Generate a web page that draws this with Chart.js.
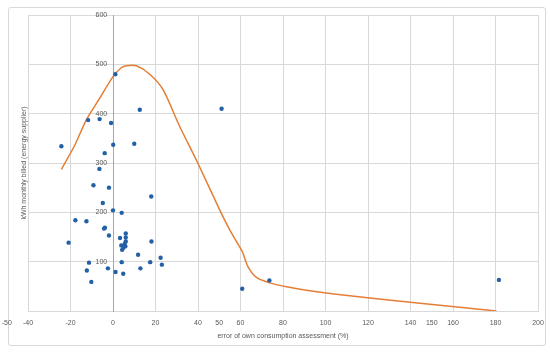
<!DOCTYPE html>
<html>
<head>
<meta charset="utf-8">
<script src="https://cdn.jsdelivr.net/npm/chart.js@4/dist/chart.umd.min.js"></script>
<style>
  html, body { margin: 0; padding: 0; background: #fff; }
  #frame { position: absolute; left: 8px; top: 7px; width: 536px; height: 337px; border: 1px solid #d9d9d9; border-radius: 3px; }
  #wrap { position: absolute; left: 0; top: 0; width: 550px; height: 354px; }
</style>
</head>
<body>
<div id="frame"></div>
<div id="wrap"><canvas id="c" width="550" height="354"></canvas></div>
<script>
// Scatter observations: error of own assessment (%) vs kWh billed
const errorPct = [-24.3, -11.7, -6.3, -0.9, 1.1, 12.6, -3.9, 0.1, 10.0, -6.4,
  -9.2, -1.9, 18.0, -4.8, 0.0, 4.1, -17.7, -12.5, -4.2, -3.8,
  -1.9, 3.3, 6.0, 6.0, 6.0, 3.9, 5.5, 5.8, 4.9, 4.3,
  -20.9, 18.1, 11.8, 22.4, -11.3, 4.1, 17.5, 23.0, -12.3, -2.4,
  12.9, 1.2, 4.8, -10.2, 51.1, 60.8, 73.6, 181.6];
const kwhBilled = [334, 387, 389, 381, 480, 408, 320, 337, 339, 288,
  255, 250, 232, 219, 204, 199, 184, 182, 167, 169,
  153, 148, 157, 149, 141, 133, 136, 131, 128, 124,
  138.5, 141, 114, 108, 98, 99, 99, 94, 82, 86.5,
  86.5, 79, 75.6, 59, 410, 45, 62, 63];

// Fitted curve
const curveX = [-24.3, -18, -12.5, -6.3, 0, 3.9, 6.3, 11, 17.3, 23.5, 31.4, 40, 50.2, 55, 59.6, 60.9, 63.5, 67.5, 73.7, 81.6, 91, 105, 141, 180.5];
const curveY = [287, 336, 388, 431, 475, 493, 497, 497, 480, 449, 374, 299, 205, 164, 130, 120, 90, 68, 57, 49, 42, 34, 17, 0];

// Tick labels
const xMin = -40, xMax = 200, xStep = 20;
const yMin = 0, yMax = 600, yStep = 100;
const extraXTickLabels = [-50, 50, 150];

const xTitle = 'error of own consumption assessment (%)';
const yTitle = 'kWh monthly billed (energy supplier)';

const FONT = "'Liberation Sans', Arial, sans-serif";
const TEXT = '#595959';
const GRID = '#d9d9d9';
const TICK_SIZE = 7;
const TICK_PAD = 8;
const TITLE_SIZE = 7;

const scatterData = errorPct.map((x, i) => ({ x: x, y: kwhBilled[i] }));
const curveData = curveX.map((x, i) => ({ x: x, y: curveY[i] }));

const extraTicks = {
  id: 'extraTicks',
  afterDraw(chart) {
    const xs = chart.scales.x;
    const ctx = chart.ctx;
    ctx.save();
    ctx.font = TICK_SIZE + 'px ' + FONT;
    ctx.fillStyle = TEXT;
    ctx.textAlign = 'center';
    ctx.textBaseline = 'middle';
    extraXTickLabels.forEach(v => {
      ctx.fillText(String(v), xs.getPixelForValue(v), xs.top + TICK_PAD + TICK_SIZE * 1.2 / 2);
    });
    ctx.restore();
  }
};

new Chart(document.getElementById('c'), {
  type: 'scatter',
  data: {
    datasets: [
      {
        label: 'curve',
        data: curveData,
        showLine: true,
        borderColor: '#e57e35',
        borderWidth: 1.5,
        pointRadius: 0,
        tension: 0.25,
        fill: false,
        order: 2
      },
      {
        label: 'observations',
        data: scatterData,
        backgroundColor: '#2360a6',
        borderColor: '#2360a6',
        borderWidth: 0,
        pointRadius: 2.2,
        order: 1
      }
    ]
  },
  options: {
    responsive: false,
    animation: false,
    devicePixelRatio: 1,
    layout: { padding: { left: 8, right: 12, top: 15, bottom: 9 } },
    plugins: { legend: { display: false }, tooltip: { enabled: false } },
    scales: {
      x: {
        type: 'linear',
        position: 'bottom',
        min: xMin, max: xMax,
        afterFit(s) { s.height = 34; s.paddingRight = 0; s.paddingLeft = 0; },
        ticks: { stepSize: xStep, color: TEXT, font: { family: FONT, size: TICK_SIZE }, padding: TICK_PAD, maxRotation: 0, autoSkip: false },
        grid: { color: GRID, drawTicks: false, lineWidth: 1 },
        border: { color: GRID },
        title: { display: true, text: xTitle, color: TEXT, font: { family: FONT, size: TITLE_SIZE }, padding: { top: 0, bottom: 5 } }
      },
      y: {
        type: 'linear',
        position: { x: 0 },
        min: yMin, max: yMax,
        afterFit(s) { s.paddingTop = 0; s.paddingBottom = 0; },
        ticks: {
          stepSize: yStep, color: TEXT, font: { family: FONT, size: TICK_SIZE }, padding: 0,
          callback: v => (v === 0 ? '' : String(v) + '   ')
        },
        grid: { color: GRID, drawTicks: false, lineWidth: 1 },
        border: { color: '#a6a6a6', width: 1 }
      },
      y2: {
        type: 'linear',
        position: 'left',
        display: true,
        min: yMin, max: yMax,
        afterFit(s) { s.width = 20; s.paddingTop = 0; s.paddingBottom = 0; },
        ticks: { display: false },
        grid: { display: false, drawTicks: false },
        border: { display: false },
        title: { display: true, text: yTitle, color: TEXT, font: { family: FONT, size: TITLE_SIZE }, padding: { top: 12, bottom: 0 } }
      }
    }
  },
  plugins: [extraTicks]
});
</script>
</body>
</html>
